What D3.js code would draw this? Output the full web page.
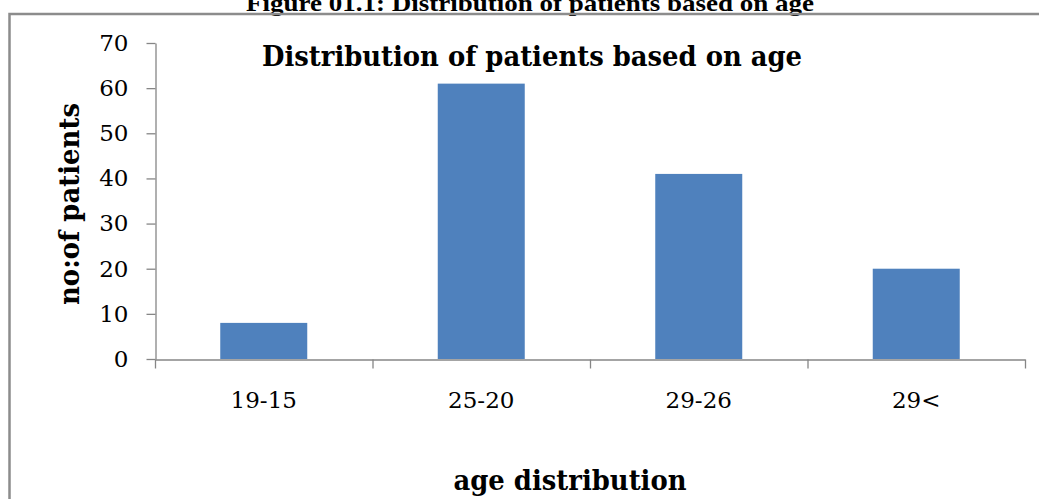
<!DOCTYPE html>
<html>
<head>
<meta charset="utf-8">
<script src="https://cdn.jsdelivr.net/npm/d3@7"></script>
<style>
  html, body { margin: 0; padding: 0; background: #fff; }
  svg { display: block; }
</style>
</head>
<body>
<svg id="chart" width="1039" height="499"></svg>
<script>
// Age groups and number of patients in each
const categories = ["19-15", "25-20", "29-26", "29<"];
const patients = [8, 61, 41, 20];
const yTicks = [0, 10, 20, 30, 40, 50, 60, 70];

const figureCaption = "Figure 01.1:  Distribution of patients based on age";
const chartTitle = "Distribution of patients based on age";
const yTitle = "no:of patients";
const xTitle = "age distribution";

const svg = d3.select("#chart");
const W = 1039, H = 499;

const serif = "'DejaVu Serif', serif";
const axisColor = "#868686";

// Figure caption, partly above the page edge
svg.append("text")
  .attr("x", 530).attr("y", 10.5)
  .attr("text-anchor", "middle")
  .attr("font-family", "'Liberation Serif', 'Times New Roman', serif")
  .attr("font-weight", "bold")
  .attr("font-size", 24)
  .attr("textLength", 568)
  .attr("lengthAdjust", "spacingAndGlyphs")
  .attr("fill", "#000")
  .text(figureCaption);

// Chart area border
svg.append("rect")
  .attr("x", 9.5).attr("y", 14)
  .attr("width", W + 20).attr("height", H + 20)
  .attr("fill", "none")
  .attr("stroke", "#8c8c8c")
  .attr("stroke-width", 2.5);

// Scales
const plot = { left: 155, right: 1025, top: 43, bottom: 359 };
const x = d3.scaleBand()
  .domain(categories)
  .range([plot.left, plot.right])
  .paddingInner(0.6)
  .paddingOuter(0.3);
const y = d3.scaleLinear()
  .domain([0, 70])
  .range([plot.bottom, plot.top]);

// Bars
svg.append("g")
  .selectAll("rect")
  .data(categories)
  .join("rect")
  .attr("x", d => x(d))
  .attr("y", (d, i) => y(patients[i]))
  .attr("width", x.bandwidth())
  .attr("height", (d, i) => y(0) - y(patients[i]))
  .attr("fill", "#4F81BD");

// Y axis
const yAxis = svg.append("g")
  .attr("transform", `translate(${plot.left + 0.5},0)`)
  .call(d3.axisLeft(y).tickValues(yTicks).tickSize(9).tickPadding(18).tickSizeOuter(0));
yAxis.select(".domain").attr("stroke", axisColor).attr("stroke-width", 1.3);
yAxis.selectAll(".tick line").attr("stroke", axisColor).attr("stroke-width", 1.3);
yAxis.selectAll(".tick text")
  .attr("font-family", serif)
  .attr("font-size", 23)
  .attr("fill", "#000");

// X axis: category labels centred in bands, tick marks on band boundaries
const xAxis = svg.append("g")
  .attr("transform", `translate(0,${plot.bottom + 0.5})`)
  .call(d3.axisBottom(x).tickSize(0).tickPadding(32).tickSizeOuter(0));
xAxis.select(".domain").attr("stroke", axisColor).attr("stroke-width", 1.3);
xAxis.selectAll(".tick text")
  .attr("font-family", serif)
  .attr("font-size", 23)
  .attr("fill", "#000");

const step = x.step();
const boundaries = d3.range(categories.length + 1).map(i => plot.left + i * step);
xAxis.selectAll(".bound")
  .data(boundaries)
  .join("line")
  .attr("class", "bound")
  .attr("x1", d => d + 0.5).attr("x2", d => d + 0.5)
  .attr("y1", 0).attr("y2", 9)
  .attr("stroke", axisColor)
  .attr("stroke-width", 1.3);

// Chart title
svg.append("text")
  .attr("x", 532).attr("y", 66)
  .attr("text-anchor", "middle")
  .attr("font-family", serif)
  .attr("font-weight", "bold")
  .attr("font-size", 28)
  .attr("textLength", 540)
  .attr("lengthAdjust", "spacingAndGlyphs")
  .attr("fill", "#000")
  .text(chartTitle);

// Y axis title
svg.append("text")
  .attr("transform", "translate(79,204) rotate(-90)")
  .attr("text-anchor", "middle")
  .attr("font-family", serif)
  .attr("font-weight", "bold")
  .attr("font-size", 28)
  .attr("textLength", 202)
  .attr("lengthAdjust", "spacingAndGlyphs")
  .attr("fill", "#000")
  .text(yTitle);

// X axis title
svg.append("text")
  .attr("x", 570).attr("y", 490)
  .attr("text-anchor", "middle")
  .attr("font-family", serif)
  .attr("font-weight", "bold")
  .attr("font-size", 28)
  .attr("textLength", 233)
  .attr("lengthAdjust", "spacingAndGlyphs")
  .attr("fill", "#000")
  .text(xTitle);
</script>
</body>
</html>
